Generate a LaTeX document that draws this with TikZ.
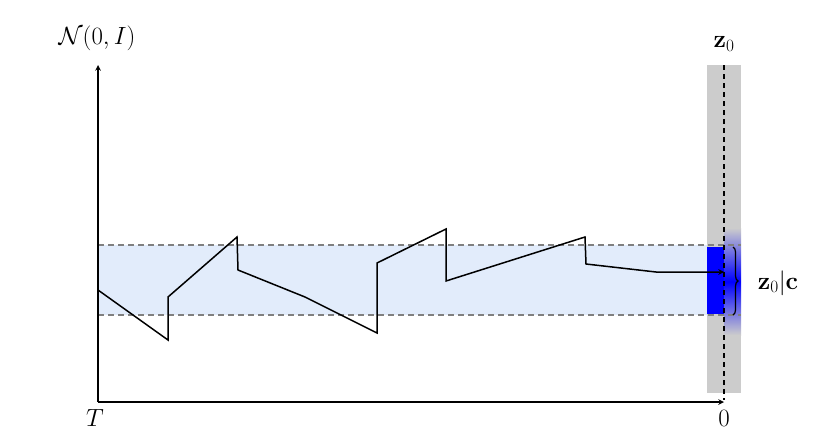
\documentclass[tikz,border=0pt]{standalone}
\usetikzlibrary{decorations.pathreplacing}
\begin{document}
\begin{tikzpicture}[x=1pt,y=-1pt,
  band/.style={fill={rgb,255:red,226;green,236;blue,251}},
  dsh/.style={dashed,dash pattern=on 6pt off 4pt,gray,line width=1.8pt},
  lbl/.style={font=\fontsize{26}{30}\selectfont}]
\useasboundingbox (0,0) rectangle (830,442);
\fill[gray!40] (707,65) rectangle (741,393);
\fill[band] (98,245) rectangle (707,315);
\shade[top color=gray!40,bottom color=gray!40,middle color=blue] (724,228) rectangle (741,335);
\fill[blue] (707,247) rectangle (724,314);
\draw[dsh] (98,245) -- (741,245);
\draw[dsh] (98,315) -- (741,315);
\draw[line width=1.8pt,dash pattern=on 5pt off 4pt] (724,65) -- (724,400);
\node[lbl] (n) at (97,38) {$\mathcal{N}(0,I)$};
\node[lbl] (z) at (724,44) {$\mathbf{z}_0$};
\node[lbl] (t) at (95,418) {$T$};
\node[lbl] (o) at (724,418) {$0$};
\node[lbl] (zc) at (778,283) {$\mathbf{z}_0|\mathbf{c}$};
\coordinate (o0) at (98,402);
\coordinate (yt) at (98,65);
\coordinate (xe) at (724,402);
\draw[line width=1.5pt,-stealth] (o0) -- (yt);
\draw[line width=1.5pt,-stealth] (o0) -- (xe);
\draw[line width=1.2pt,decorate,decoration={brace,amplitude=5pt}] (733,247) -- (733,315);
\coordinate (e) at (724,272);
\draw[line width=1.5pt,-stealth] (98,290) -- (168,340) -- (168,297) -- (237,237) -- (238,270) -- (305,297) -- (377,333) -- (377,263) -- (446,229) -- (446,281) -- (585,237) -- (586,264) -- (656,272) -- (e);
\end{tikzpicture}
\end{document}
